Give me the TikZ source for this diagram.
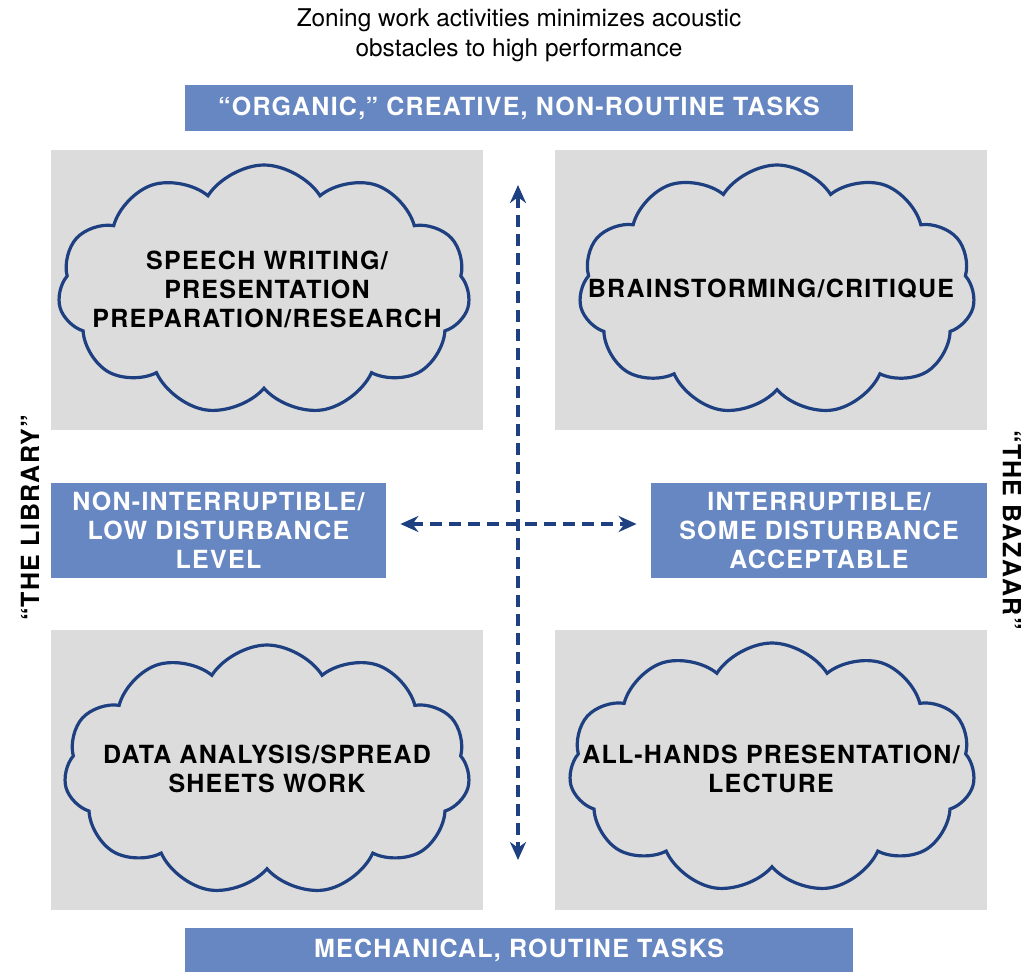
\documentclass[tikz,border=0pt]{standalone}
\usepackage{fontspec}
\setmainfont{TeX Gyre Heros}
\newfontfamily\capsfont[LetterSpace=5]{TeX Gyre Heros}
\usetikzlibrary{arrows.meta,shapes.symbols}
\definecolor{barBlue}{RGB}{103, 135, 195}
\definecolor{lineBlue}{RGB}{31, 64, 128}
\definecolor{zoneGrey}{RGB}{220, 220, 220}

\tikzset{
  bar/.style={rectangle, fill=barBlue, inner sep=0pt, text=white, font=\capsfont\bfseries\fontsize{12.5}{14.5}\selectfont, align=center},
  zone/.style={rectangle, fill=zoneGrey, inner sep=0pt, minimum width=216pt, minimum height=140pt},
  cloudy/.style={cloud, cloud puffs=11, cloud puff arc=115, aspect=1.65, draw=lineBlue, line width=1.6pt, minimum width=#1, minimum height=125pt, inner sep=0pt},
  task/.style={font=\capsfont\bfseries\fontsize{12.5}{14.5}\selectfont, align=center},
  sidelabel/.style={font=\capsfont\bfseries\fontsize{12.5}{14.5}\selectfont},
  axis/.style={draw=lineBlue, line width=2pt, dash pattern=on 6pt off 3.5pt, {Stealth[length=9pt,width=8pt]}-{Stealth[length=9pt,width=8pt]}}
}

\begin{document}
\begin{tikzpicture}[x=0.5pt, y=-0.5pt]
  \useasboundingbox (0,0) rectangle (1024,971);

  % heading
  \node[font=\fontsize{12.2}{15}\selectfont, align=center] (title) at (519,35) {Zoning work activities minimizes acoustic\\obstacles to high performance};
  \node[bar, minimum width=334pt, minimum height=23pt] (organic) at (519,108) {“ORGANIC,” CREATIVE, NON-ROUTINE TASKS};
  \node[bar, minimum width=334pt, minimum height=22pt] (routine) at (519,950) {MECHANICAL, ROUTINE TASKS};

  % four zones
  \node[zone] (zoneTL) at (267,290) {};
  \node[zone] (zoneTR) at (771,290) {};
  \node[zone] (zoneBL) at (267,770) {};
  \node[zone] (zoneBR) at (771,770) {};

  \node[cloudy=206pt] (cloudTL) at (264,290) {};
  \node[cloudy=198pt] (cloudTR) at (777,290) {};
  \node[cloudy=203pt] (cloudBL) at (267,770) {};
  \node[cloudy=203pt] (cloudBR) at (772,768) {};

  \node[task] (speech) at (267,289) {SPEECH WRITING/\\PRESENTATION\\PREPARATION/RESEARCH};
  \node[task] (brainstorm) at (771,289) {BRAINSTORMING/CRITIQUE};
  \node[task] (data) at (267,769) {DATA ANALYSIS/SPREAD\\SHEETS WORK};
  \node[task] (allhands) at (771,769) {ALL-HANDS PRESENTATION/\\LECTURE};

  % disturbance level
  \node[bar, minimum width=167.5pt, minimum height=47.5pt] (quiet) at (218.5,530.5) {NON-INTERRUPTIBLE/\\LOW DISTURBANCE\\LEVEL};
  \node[bar, minimum width=168pt, minimum height=47.5pt] (busy) at (819,530.5) {INTERRUPTIBLE/\\SOME DISTURBANCE\\ACCEPTABLE};

  \node[sidelabel, rotate=90] (library) at (30,518) {“THE LIBRARY”};
  \node[sidelabel, rotate=-90] (bazaar) at (1012,530) {“THE BAZAAR”};

  % axes
  \coordinate (axisTop) at (518,185);
  \coordinate (axisBottom) at (518,860);
  \draw[axis] (axisTop) -- (axisBottom);
  \draw[axis, shorten <=7pt, shorten >=7pt] (quiet.east |- 0,524) -- (busy.west |- 0,524);
\end{tikzpicture}
\end{document}
